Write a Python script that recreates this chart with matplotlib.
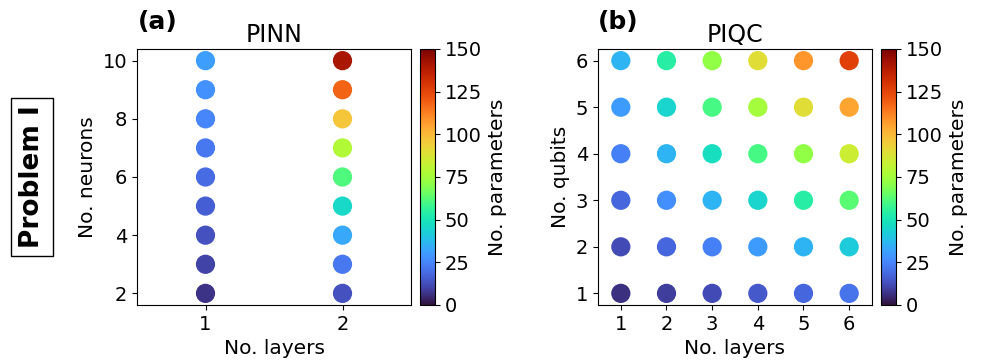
import matplotlib
matplotlib.use("Agg")
import matplotlib.pyplot as plt
import numpy as np

# PINN: layers x neurons -> number of parameters
pinn_layers = [1] * 9 + [2] * 9
pinn_neurons = [2, 3, 4, 5, 6, 7, 8, 9, 10] * 2
pinn_params = [7, 10, 13, 16, 19, 22, 25, 28, 31,
               13, 22, 33, 46, 61, 78, 97, 118, 141]

# PIQC: layers x qubits -> number of parameters
piqc_layers = [1, 2, 3, 4, 5, 6] * 6
piqc_qubits = [q for q in range(1, 7) for _ in range(6)]
piqc_params = [6, 9, 12, 15, 18, 21,
               12, 18, 24, 30, 36, 42,
               18, 27, 36, 45, 54, 63,
               24, 36, 48, 60, 72, 84,
               30, 45, 60, 75, 90, 105,
               36, 54, 72, 90, 108, 126]

plt.rcParams['font.size'] = 14
plt.rcParams['axes.labelsize'] = 14.5
fig = plt.figure(figsize=(9.84, 3.6), dpi=100)

W, H = 984, 360
def rect(x0, y0, x1, y1):
    return [x0 / W, 1 - y1 / H, (x1 - x0) / W, (y1 - y0) / H]

ax1 = fig.add_axes(rect(137, 49, 411, 305))
cax1 = fig.add_axes(rect(420, 49, 435, 305))
ax2 = fig.add_axes(rect(598, 49, 872, 305))
cax2 = fig.add_axes(rect(881, 49, 896, 305))

sc1 = ax1.scatter(pinn_layers, pinn_neurons, c=pinn_params, cmap='turbo',
                  vmin=0, vmax=150, s=165)
ax1.set_xlim(0.5, 2.5)
ax1.set_xticks([1, 2])
ax1.set_yticks([2, 4, 6, 8, 10])
ax1.set_xlabel("No. layers")
ax1.set_ylabel("No. neurons")
ax1.set_title("PINN", fontsize=17, pad=5)
cb1 = fig.colorbar(sc1, cax=cax1)
cb1.set_label("No. parameters")
cb1.set_ticks([0, 25, 50, 75, 100, 125, 150])

sc2 = ax2.scatter(piqc_layers, piqc_qubits, c=piqc_params, cmap='turbo',
                  vmin=0, vmax=150, s=165)
ax2.set_xlim(0.5, 6.5)
ax2.set_xticks(range(1, 7))
ax2.set_yticks(range(1, 7))
ax2.set_xlabel("No. layers")
ax2.set_ylabel("No. qubits")
ax2.set_title("PIQC", fontsize=17, pad=5)
cb2 = fig.colorbar(sc2, cax=cax2)
cb2.set_label("No. parameters")
cb2.set_ticks([0, 25, 50, 75, 100, 125, 150])

fig.text(138 / W, 1 - 22 / H, "(a)", fontsize=18, fontweight='bold', va='center')
fig.text(598 / W, 1 - 22 / H, "(b)", fontsize=18, fontweight='bold', va='center')

fig.text(32 / W, 1 - 177 / H, "Problem I", rotation=90, fontsize=19,
         fontweight='bold', ha='center', va='center',
         bbox=dict(boxstyle='square,pad=0.3', fc='white', ec='black'))

fig.savefig("out.png", dpi=100)
